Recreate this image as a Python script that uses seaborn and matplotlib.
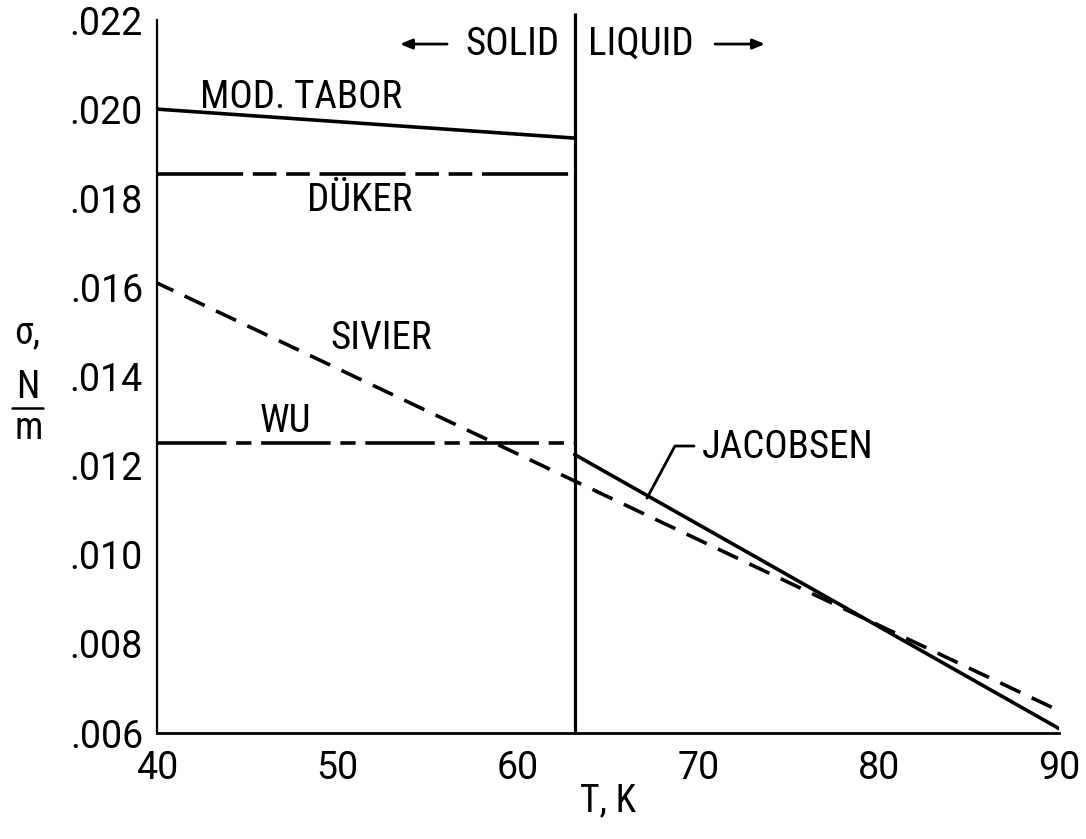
import matplotlib
matplotlib.use("Agg")
import matplotlib.pyplot as plt
from matplotlib.lines import Line2D
import seaborn as sns

# Surface tension of nitrogen versus temperature, by correlation
T_solid = [40.0, 63.15]
tabor = [0.0200, 0.01935]
duker = [0.01855, 0.01855]
wu = [0.0125, 0.0125]

T_sivier = [40.0, 90.0]
sivier = [0.0161, 0.0065]

T_liquid = [63.15, 90.0]
jacobsen = [0.01225, 0.0061]

T_triple = 63.15

x_ticks = [40, 50, 60, 70, 80, 90]
x_tick_labels = ["40", "50", "60", "70", "80", "90"]
y_ticks = [0.006, 0.008, 0.010, 0.012, 0.014, 0.016, 0.018, 0.020, 0.022]
y_tick_labels = [".006", ".008", ".010", ".012", ".014", ".016", ".018", ".020", ".022"]

sns.set_theme(style="white")
FONT = ["Roboto", "DejaVu Sans"]
LABEL_FONT = ["Roboto Condensed", "Roboto", "DejaVu Sans"]
plt.rcParams["font.family"] = FONT
plt.rcParams["lines.scale_dashes"] = False

fig = plt.figure(figsize=(10.86, 8.39), dpi=100)
ax = fig.add_axes([157 / 1086, 1 - 733 / 839, (1059 - 157) / 1086, (733 - 20) / 839])

LW = 2.6
ink = "black"
FS = 28

sns.lineplot(x=T_solid, y=tabor, ax=ax, color=ink, lw=LW, linestyle="-")
sns.lineplot(x=T_solid, y=duker, ax=ax, color=ink, lw=LW,
             linestyle=(0, (62, 7, 17, 7, 17, 7)))
sns.lineplot(x=T_solid, y=wu, ax=ax, color=ink, lw=LW,
             linestyle=(0, (50, 7, 11, 7)))
sns.lineplot(x=T_sivier, y=sivier, ax=ax, color=ink, lw=LW,
             linestyle=(3, (16, 9)))
sns.lineplot(x=T_liquid, y=jacobsen, ax=ax, color=ink, lw=LW, linestyle="-")

# solid / liquid boundary
ax.plot([T_triple, T_triple], [y_ticks[0], 0.02215], color=ink, lw=2.3,
        clip_on=False, solid_capstyle="butt")

ax.set_xlim(x_ticks[0], x_ticks[-1])
ax.set_ylim(y_ticks[0], y_ticks[-1])
ax.set_xticks(x_ticks)
ax.set_xticklabels(x_tick_labels)
ax.set_yticks(y_ticks)
ax.set_yticklabels(y_tick_labels)

for side in ("top", "right"):
    ax.spines[side].set_visible(False)
ax.spines["left"].set_color(ink)
ax.spines["left"].set_linewidth(1.6)
ax.spines["bottom"].set_color(ink)
ax.spines["bottom"].set_linewidth(2.0)

ax.tick_params(axis="both", direction="in", length=20, width=1.5, colors=ink,
               labelsize=27, pad=10)
ax.tick_params(axis="x", pad=12)
ax.set_facecolor("white")
ax.grid(False)

ax.set_xlabel("T, K", fontsize=27, labelpad=-3, color=ink, family=LABEL_FONT)

lab = dict(fontsize=FS, color=ink, va="center", ha="left", family=LABEL_FONT)
ax.text(42.38, 0.02027, "MOD. TABOR", **lab)
ax.text(48.31, 0.01796, "DÜKER", **lab)
ax.text(49.59, 0.01486, "SIVIER", **lab)
ax.text(45.71, 0.01298, "WU", **lab)
ax.text(70.21, 0.01240, "JACOBSEN", **lab)
ax.text(57.07, 0.02146, "SOLID", **lab)
ax.text(63.89, 0.02146, "LIQUID", **lab)

# phase arrows
arrow = dict(arrowstyle="-|>,head_length=0.6,head_width=0.25", color=ink, lw=2.0,
             shrinkA=0, shrinkB=0)
ax.annotate("", xy=(53.47, 0.02146), xytext=(56.08, 0.02146), arrowprops=arrow,
            annotation_clip=False)
ax.annotate("", xy=(73.70, 0.02146), xytext=(70.93, 0.02146), arrowprops=arrow,
            annotation_clip=False)

# leader for the JACOBSEN label
ax.plot([69.77, 68.71, 67.16], [0.01244, 0.01244, 0.01127], color=ink, lw=2.0)

# y-axis label: sigma, N over m
ylab = dict(fontsize=27, color=ink, ha="center", va="center", family=LABEL_FONT)
fig.text(27 / 1086, 1 - 333 / 839, "σ,", **ylab)
fig.text(28 / 1086, 1 - 387 / 839, "N", **ylab)
fig.text(29 / 1086, 1 - 428 / 839, "m", **ylab)
fig.add_artist(Line2D([12 / 1086, 43 / 1086], [1 - 408 / 839, 1 - 408 / 839],
                      color=ink, lw=1.8, transform=fig.transFigure))

fig.savefig("out.png", dpi=100, facecolor="white")
